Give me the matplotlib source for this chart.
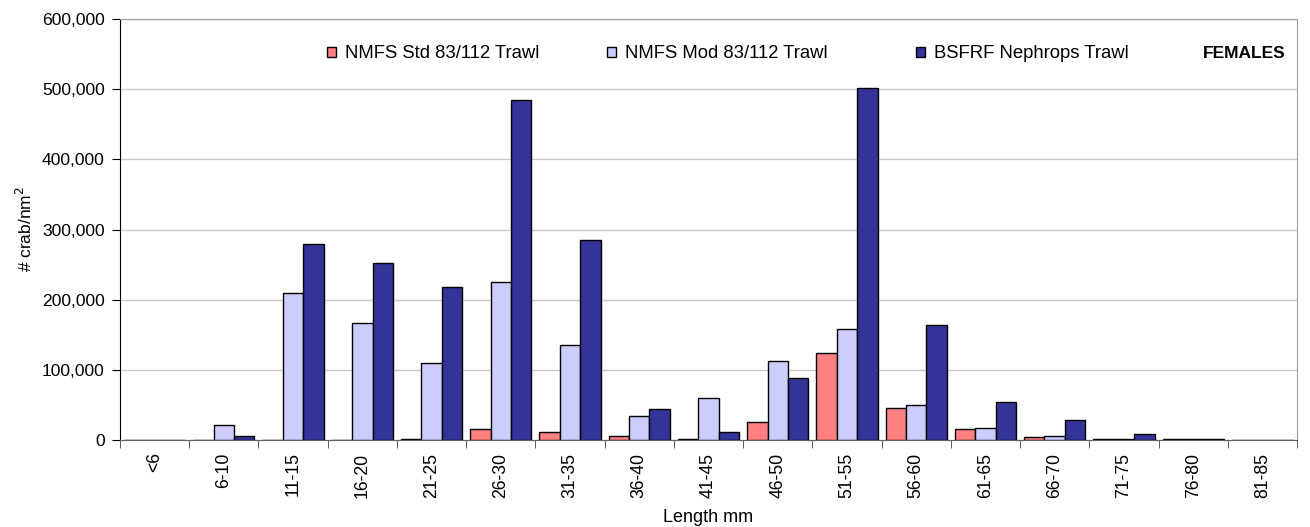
import matplotlib
matplotlib.use("Agg")
import matplotlib.pyplot as plt
import numpy as np
from matplotlib.ticker import FuncFormatter, MultipleLocator
from matplotlib.patches import Patch
from matplotlib.legend import Legend

plt.rcParams['font.family'] = ['Liberation Sans', 'DejaVu Sans']

categories = ["<6", "6-10", "11-15", "16-20", "21-25", "26-30", "31-35", "36-40",
              "41-45", "46-50", "51-55", "56-60", "61-65", "66-70", "71-75", "76-80", "81-85"]
nmfs_std = [0, 0, 0, 0, 1500, 15700, 11000, 5000, 1500, 26000, 124000, 46000, 15000, 4000, 1500, 1000, 0]
nmfs_mod = [0, 21000, 209500, 166500, 110000, 225500, 135500, 34000, 60000, 112000, 158000, 50000, 17000, 6000, 1500, 1000, 0]
bsfrf = [0, 5700, 280000, 252000, 218000, 484000, 285000, 44000, 11000, 88000, 502000, 164000, 54000, 28000, 9000, 1500, 0]

series_names = ["NMFS Std 83/112 Trawl", "NMFS Mod 83/112 Trawl", "BSFRF Nephrops Trawl"]
colors = ["#FF8080", "#CCCCFF", "#333399"]

fig = plt.figure(figsize=(13.1, 5.27), dpi=100)
ax = fig.add_axes([120/1310, 1-440/527, (1297-120)/1310, (440-19)/527])

x = np.arange(len(categories))
w = 0.295
for i, (vals, name, c) in enumerate(zip([nmfs_std, nmfs_mod, bsfrf], series_names, colors)):
    ax.bar(x + (i-1)*w, vals, width=w, color=c, edgecolor="black", linewidth=1.0, label=name, zorder=3)

ax.set_xlim(-0.5, len(categories)-0.5)
ax.set_ylim(0, 600000)
ax.yaxis.set_major_locator(MultipleLocator(100000))
ax.yaxis.set_major_formatter(FuncFormatter(lambda v, p: f"{int(v):,}"))
ax.grid(axis='y', color='#C8C8C8', linewidth=1.0, zorder=0)

ax.set_xticks(x)
ax.set_xticklabels(categories, rotation=90, fontsize=12.7)
ax.set_xticks(np.arange(-0.5, len(categories)), minor=True)
ax.tick_params(axis='x', which='major', length=0, pad=9)
ax.tick_params(axis='x', which='minor', length=6, direction='out', color='#404040')
ax.tick_params(axis='y', labelsize=12.6, length=6, direction='out', pad=5)

for s in ['top', 'right']:
    ax.spines[s].set_color('#A0A0A0')
ax.spines['left'].set_color('black')
ax.spines['bottom'].set_color('#606060')

ax.set_ylabel("# crab/nm$^2$", fontsize=12.5)
ax.yaxis.set_label_coords(-0.072, 0.5)
ax.set_xlabel("Length mm", fontsize=13)
ax.xaxis.set_label_coords(0.5, -0.165)

# legend entries (Excel-style, individually positioned)
leg_x = [(327-120)/1177, (607-120)/1177, (916-120)/1177]
leg_y = (440-54)/421
for name, c, lx in zip(series_names, colors, leg_x):
    lg = Legend(ax, [Patch(facecolor=c, edgecolor='black', linewidth=1.0)], [name],
                loc='center left', bbox_to_anchor=(lx, leg_y), bbox_transform=ax.transAxes,
                frameon=False, fontsize=13.3, handlelength=0.5, handleheight=0.5,
                handletextpad=0.45, borderaxespad=0, borderpad=0)
    ax.add_artist(lg)

ax.text((1286-120)/1177, leg_y, "FEMALES", transform=ax.transAxes, ha='right', va='center',
        fontsize=12.5, fontweight='bold')

fig.savefig("out.png", dpi=100)
